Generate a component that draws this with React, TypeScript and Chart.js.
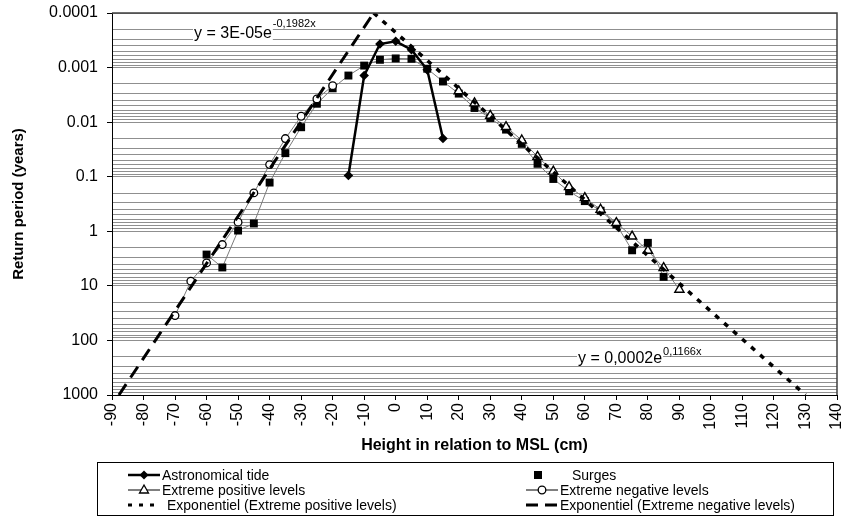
import React, { useEffect, useRef } from 'react';
import { Chart, registerables } from 'chart.js';
Chart.register(...registerables);

// ---- data ----
const tideX = [-15, -10, -5, 0, 5, 10, 15];
const tideY = [0.095, 0.0014, 0.00037, 0.00033, 0.00047, 0.0011, 0.02];

const surgeX = [-60, -55, -50, -45, -40, -35, -30, -25, -20, -15, -10, -5, 0, 5, 10, 15, 20, 25, 30, 35, 40, 45, 50, 55, 60, 65, 70, 75, 80, 85];
const surgeY = [2.67, 4.6, 0.97, 0.72, 0.128, 0.037, 0.0124, 0.0046, 0.0024, 0.0014, 0.00092, 0.00072, 0.00068, 0.00069, 0.00105, 0.0018, 0.003, 0.0055, 0.0084, 0.0137, 0.025, 0.058, 0.11, 0.185, 0.28, 0.42, 0.75, 2.23, 1.63, 6.84];

const posX = [20, 25, 30, 35, 40, 45, 50, 55, 60, 65, 70, 75, 80, 85, 90];
const posY = [0.0027, 0.0045, 0.0076, 0.0122, 0.0215, 0.043, 0.08, 0.154, 0.245, 0.4, 0.7, 1.24, 2.26, 4.68, 11.7];

const negX = [-70, -65, -60, -55, -50, -45, -40, -35, -30, -25, -20];
const negY = [35, 8.2, 3.8, 1.75, 0.68, 0.198, 0.06, 0.02, 0.0078, 0.00376, 0.00215];

// trend lines (straight on a log axis): end points
const posTrendX = [-7, 130];
const posTrendY = [0.0001, 1000];
const negTrendX = [-87.8, -7];
const negTrendY = [1000, 0.0001];

const yMajorTicks = [0.0001, 0.001, 0.01, 0.1, 1, 10, 100, 1000];
const yTickLabels = ['0.0001', '0.001', '0.01', '0.1', '1', '10', '100', '1000'];
const yMinorMultipliers = [2, 3, 4, 5, 6, 7, 8, 9];

const seriesLabels = [
  'Astronomical tide',
  'Surges',
  'Extreme positive levels',
  'Extreme negative levels',
  'Exponentiel (Extreme positive levels)',
  'Exponentiel (Extreme negative levels)',
];

const eqNeg = { main: 'y = 3E-05e', sup: '-0,1982x' };
const eqPos = { main: 'y = 0,0002e', sup: '0,1166x' };

const FONT = '"Liberation Sans", Arial, sans-serif';

const pts = (xs: number[], ys: number[]) => xs.map((x, i) => ({ x, y: ys[i] }));

function gridValues(): number[] {
  const out: number[] = [];
  yMajorTicks.forEach((m, i) => {
    out.push(m);
    if (i < yMajorTicks.length - 1) yMinorMultipliers.forEach((k) => out.push(+(m * k).toPrecision(3)));
  });
  return out;
}

function isMajor(v: number) {
  return yMajorTicks.some((m) => Math.abs(m - v) / m < 1e-6);
}

const overlay = {
  id: 'overlay',
  afterDraw(chart: any) {
    const ctx = chart.ctx;
    const a = chart.chartArea;
    ctx.save();
    // plot frame (top/right)
    ctx.strokeStyle = '#404040';
    ctx.lineWidth = 1.5;
    ctx.beginPath();
    ctx.moveTo(a.left, a.top);
    ctx.lineTo(a.right, a.top);
    ctx.lineTo(a.right, a.bottom);
    ctx.stroke();

    // equations
    const drawEq = (eq: any, x: number, y: number, supDy: number) => {
      ctx.font = `16px ${FONT}`;
      const w = ctx.measureText(eq.main).width;
      ctx.fillStyle = '#fff';
      ctx.fillRect(x - 1, y - 12, w + 2, 15);
      ctx.fillStyle = '#000';
      ctx.textBaseline = 'alphabetic';
      ctx.textAlign = 'left';
      ctx.fillText(eq.main, x, y);
      ctx.font = `11px ${FONT}`;
      ctx.fillText(eq.sup, x + w + 1, y - supDy);
    };
    drawEq(eqNeg, 194, 38, 11);
    drawEq(eqPos, 578, 363, 8);

    // legend
    const bx = 97.5, by = 462.5, bw = 736, bh = 53;
    ctx.strokeStyle = '#000';
    ctx.lineWidth = 1;
    ctx.setLineDash([]);
    ctx.strokeRect(bx, by, bw, bh);
    const cols = [{ s: 128, e: 160, t: 162 }, { s: 526, e: 558, t: 560 }];
    const rows = [475, 490, 505];
    const items = [
      { kind: 'tide', c: 0, r: 0 },
      { kind: 'surge', c: 1, r: 0 },
      { kind: 'pos', c: 0, r: 1 },
      { kind: 'neg', c: 1, r: 1 },
      { kind: 'posTrend', c: 0, r: 2 },
      { kind: 'negTrend', c: 1, r: 2 },
    ];
    items.forEach((it, i) => {
      const col = cols[it.c];
      const y = rows[it.r];
      const cx = (col.s + col.e) / 2;
      let tx = col.t;
      ctx.save();
      ctx.strokeStyle = '#000';
      ctx.fillStyle = '#000';
      if (it.kind === 'tide') {
        ctx.lineWidth = 2.5;
        ctx.beginPath(); ctx.moveTo(col.s, y); ctx.lineTo(col.e, y); ctx.stroke();
        ctx.beginPath();
        ctx.moveTo(cx, y - 4.5); ctx.lineTo(cx + 4.5, y); ctx.lineTo(cx, y + 4.5); ctx.lineTo(cx - 4.5, y); ctx.closePath(); ctx.fill();
      } else if (it.kind === 'surge') {
        ctx.fillRect(cx - 8, y - 4, 8, 8);
        tx = col.t + 12;
      } else if (it.kind === 'pos') {
        ctx.lineWidth = 1;
        ctx.beginPath(); ctx.moveTo(col.s, y); ctx.lineTo(col.e, y); ctx.stroke();
        ctx.fillStyle = '#fff';
        ctx.lineWidth = 1.3;
        ctx.beginPath(); ctx.moveTo(cx, y - 5); ctx.lineTo(cx + 4.5, y + 3); ctx.lineTo(cx - 4.5, y + 3); ctx.closePath(); ctx.fill(); ctx.stroke();
      } else if (it.kind === 'neg') {
        ctx.lineWidth = 1;
        ctx.beginPath(); ctx.moveTo(col.s, y); ctx.lineTo(col.e, y); ctx.stroke();
        ctx.fillStyle = '#fff';
        ctx.lineWidth = 1.3;
        ctx.beginPath(); ctx.arc(cx, y, 3.8, 0, Math.PI * 2); ctx.fill(); ctx.stroke();
      } else if (it.kind === 'posTrend') {
        ctx.lineWidth = 3;
        ctx.setLineDash([4, 7]);
        ctx.beginPath(); ctx.moveTo(col.s, y); ctx.lineTo(col.e, y); ctx.stroke();
        tx = col.t + 5;
      } else {
        ctx.lineWidth = 3;
        ctx.setLineDash([12, 7]);
        ctx.beginPath(); ctx.moveTo(col.s, y); ctx.lineTo(col.e, y); ctx.stroke();
      }
      ctx.restore();
      ctx.fillStyle = '#000';
      ctx.font = `14px ${FONT}`;
      ctx.textBaseline = 'middle';
      ctx.textAlign = 'left';
      ctx.fillText(seriesLabels[i], tx, y + 1);
    });
    ctx.restore();
  },
};

export default function App() {
  const ref = useRef<HTMLCanvasElement | null>(null);
  useEffect(() => {
    if (!ref.current) return;
    const chart = new Chart(ref.current, {
      type: 'line',
      data: {
        datasets: [
          {
            label: seriesLabels[0], data: pts(tideX, tideY), borderColor: '#000', backgroundColor: '#000',
            borderWidth: 2.5, pointStyle: 'rectRot', pointRadius: 4.8, pointBorderWidth: 0, order: 5,
          },
          {
            label: seriesLabels[1], data: pts(surgeX, surgeY), borderColor: '#7a7a7a', backgroundColor: '#000',
            borderWidth: 1, pointStyle: 'rect', pointRadius: 5.6, pointBorderColor: '#000', pointBorderWidth: 0, order: 6,
          },
          {
            label: seriesLabels[2], data: pts(posX, posY), borderColor: '#7a7a7a', backgroundColor: '#fff',
            borderWidth: 1, pointStyle: 'triangle', pointRadius: 5.3, pointBorderColor: '#000', pointBorderWidth: 1.4, order: 4,
          },
          {
            label: seriesLabels[3], data: pts(negX, negY), borderColor: '#7a7a7a', backgroundColor: '#fff',
            borderWidth: 1, pointStyle: 'circle', pointRadius: 3.8, pointBorderColor: '#000', pointBorderWidth: 1.3, order: 3,
          },
          {
            label: seriesLabels[4], data: pts(posTrendX, posTrendY), borderColor: '#000', borderWidth: 3.5,
            borderDash: [5, 7], pointRadius: 0, order: 2,
          },
          {
            label: seriesLabels[5], data: pts(negTrendX, negTrendY), borderColor: '#000', borderWidth: 3,
            borderDash: [13, 8], pointRadius: 0, order: 1,
          },
        ],
      },
      options: {
        responsive: false,
        animation: false,
        devicePixelRatio: 1,
        layout: { padding: { left: 0, right: 7, top: 13, bottom: 63 } },
        plugins: { legend: { display: false }, tooltip: { enabled: false } },
        elements: { line: { tension: 0, fill: false } },
        scales: {
          x: {
            type: 'linear', min: -90, max: 140,
            ticks: {
              stepSize: 10, minRotation: 90, maxRotation: 90, autoSkip: false, padding: 3,
              color: '#000', font: { family: FONT, size: 16 },
              callback: (v: any) => String(v),
            },
            grid: { drawOnChartArea: false, tickLength: 5, color: '#000' },
            border: { color: '#000', width: 1 },
            title: {
              display: true, text: 'Height in relation to MSL (cm)', color: '#000',
              font: { family: FONT, size: 16, weight: 'bold' }, padding: { top: 0, bottom: 0 },
            },
            afterFit: (s: any) => { s.height = 60; s.paddingLeft = 0; s.paddingRight = 0; },
          },
          y: {
            type: 'logarithmic', reverse: true, min: 0.0001, max: 1000,
            afterBuildTicks: (s: any) => { s.ticks = gridValues().map((v) => ({ value: v, major: isMajor(v) })); },
            ticks: {
              autoSkip: false, padding: 9, color: '#000', font: { family: FONT, size: 16 },
              callback: (v: any) => {
                const idx = yMajorTicks.findIndex((m) => Math.abs(m - v) / m < 1e-6);
                return idx >= 0 ? yTickLabels[idx] : '';
              },
            },
            grid: {
              color: '#8f8f8f', lineWidth: 1, tickLength: 5,
              tickColor: (c: any) => (c.tick && isMajor(c.tick.value) ? '#000' : 'rgba(0,0,0,0)'),
            },
            border: { color: '#000', width: 1 },
            title: {
              display: true, text: 'Return period (years)', color: '#000',
              font: { family: FONT, size: 15, weight: 'bold' }, padding: { top: 10, bottom: 0 },
            },
            afterFit: (s: any) => { s.width = 112; s.paddingTop = 0; s.paddingBottom = 0; },
          },
        },
      } as any,
      plugins: [overlay],
    });
    return () => chart.destroy();
  }, []);
  return (
    <div style={{ position: 'absolute', left: 0, top: 0, width: 844, height: 518, background: '#fff' }}>
      <canvas ref={ref} width={844} height={518} style={{ display: 'block' }} />
    </div>
  );
}
